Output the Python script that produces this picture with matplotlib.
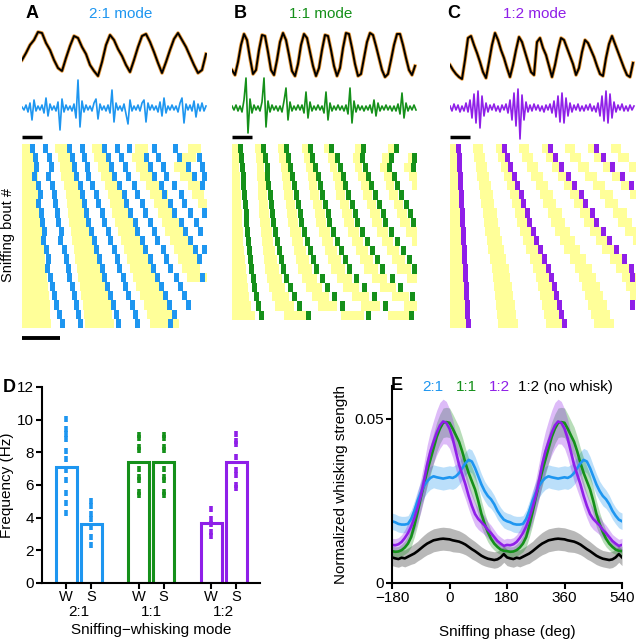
import numpy as np
import matplotlib.pyplot as plt

plt.rcParams['font.family'] = ['Liberation Sans', 'DejaVu Sans']

W_PX, H_PX = 636, 639
BLUE = '#1E96F0'
GREEN = '#15901A'
PURPLE = '#8F1FE8'
YELLOW = '#FFFF99'
ORANGE = '#E89B3C'

# ---------------- top traces (time in 5-ms bins) ----------------
sniff_a = [20, 27, 35, 40, 48, 47, 37, 30, 20, 12, 9, 22, 34, 44, 42, 33, 26, 15, 9, 4,
           18, 35, 45, 40, 31, 24, 15, 8, 20, 33, 44, 46, 38, 28, 17, 7, 18, 30, 41, 47,
           40, 33, 24, 15, 7, 10, 26]
emg_a = [1, -2, 3, -4, 5, -12, 8, -3, 2, -2, 3, -5, 10, -8, 4, -2, 2, -3, 6, -22,
         9, -4, 3, -2, 2, -3, 4, -10, 28, -19, 7, -4, 3, -2, 2, -3, 5, 9, -11, 4,
         -2, 2, -3, 3, -5, 18, -14, 5, -2, 2, -3, 4, -6, -16, 8, -3, 2, -2, 3, -3,
         5, 8, -14, 5, -2, 3, -2, 2, -4, 6, -8, 10, -5, 2, -2, 3, -2, 2, -4, 5,
         10, -15, 4, -2, 3, -3, 7, -9, 4, -3, 5, -3, 2]
sniff_b = [10, 5, 18, 35, 46, 40, 22, 6, 10, 30, 45, 44, 28, 10, 5, 20, 38, 47, 40, 25,
           9, 4, 16, 35, 46, 42, 28, 14, 4, 12, 30, 45, 44, 30, 14, 4, 12, 32, 47, 46,
           32, 16, 4, 6, 22, 38, 47, 45, 34, 22, 10, 3, 6, 20, 35, 46, 46, 35, 22, 10,
           5, 14]
emg_b = [2, -2, 3, -3, 2, -4, 8, 30, -25, 9, -5, 3, -2, 2, -3, 6, 30, -19, 7, -4,
         3, -2, 2, -3, 2, -4, 7, 20, -12, 6, -3, 2, -2, 3, -2, 3, -5, 16, -10, 6,
         -3, 2, -2, 3, -2, 2, -5, 16, -12, 5, -3, 2, -2, 3, -2, 2, -3, 3, -6, 20,
         -15, 7, -4, 3, -2, 2, -3, 2, -2, 3, -5, 8, -8, 5, -3, 2, -2, 3, -2, 2,
         -3, 2, -3, 4, -6, 15, -10, 5, -3, 2, -2, 3, -2]
sniff_c = [15, 10, 6, 3, 1, 20, 42, 44, 35, 27, 18, 8, 2, 18, 35, 47, 40, 30, 22, 12,
           3, 15, 30, 43, 38, 28, 18, 8, 5, 38, 42, 32, 25, 14, 3, 15, 30, 42, 40, 32,
           24, 16, 5, 12, 28, 40, 37, 30, 23, 14, 6, 4, 22, 36, 44, 36, 28, 20, 12, 5,
           3, 17]
emg_c = [2, -3, 4, -2, 3, -4, 2, -3, 5, -4, 8, -10, 14, -15, 17, -20, 12, -8, 5, -4,
         3, -2, 4, -3, 2, -4, 3, -2, 4, -5, 8, -12, 15, -18, 19, -31, 13, -12, 6, -4,
         3, -3, 4, -2, 3, -3, 2, -4, 3, -2, 4, -5, 7, -9, 12, -14, 15, -15, 10, -8,
         5, -4, 3, -2, 4, -3, 2, -3, 3, -2, 4, -3, 2, -4, 5, -8, 12, -13, 17, -15,
         14, -10, 6, -4, 3, -2, 4, -3, 2, -3, 3, -2, 2]

# ---------------- rasters: yellow = sniff, colour = whisk ----------------
A_onsets = [[0, 33, 70, 113, 166], [0, 36, 72, 110, 160], [0, 38, 76, 114, 152],
            [0, 39, 79, 118, 158], [0, 42, 83, 124, 166], [0, 44, 86, 128, 170],
            [0, 45, 88, 132, 176], [0, 46, 90, 136], [0, 47, 93, 140], [0, 49, 96, 143],
            [0, 50, 99, 148], [0, 52, 102, 152], [0, 53, 105, 156], [0, 55, 108, 160],
            [0, 56, 111, 165], [0, 58, 114], [0, 59, 118], [0, 61, 122], [0, 62, 125],
            [0, 63, 128]]
A_width = [13, 14, 15, 16, 17, 18, 18, 19, 20, 20, 21, 23, 23, 24, 25, 26, 27, 28, 28, 29]
A_end = [185, 185, 185, 185, 185, 182, 185, 185, 183, 185, 180, 185, 183, 178, 185,
         170, 172, 168, 165, 160]
A_whisk = [[8, 21, 45, 58, 80, 93, 105, 130, 151], [11, 25, 48, 60, 84, 97, 122, 134, 155, 175],
           [12, 27, 50, 63, 87, 101, 126, 139, 164, 178], [10, 24, 52, 64, 90, 104, 130, 142, 170, 180],
           [14, 28, 56, 68, 95, 110, 137, 150, 178], [16, 30, 58, 72, 100, 113, 140, 157],
           [14, 31, 60, 74, 102, 118, 146, 160], [17, 33, 62, 78, 106, 121, 150, 166, 180],
           [18, 34, 64, 80, 111, 126, 157, 172], [20, 37, 67, 84, 113, 130, 161, 176],
           [19, 36, 70, 86, 118, 133, 166], [22, 40, 72, 90, 121, 139, 171, 180],
           [24, 42, 75, 93, 126, 142, 175], [23, 44, 78, 95, 129, 146],
           [26, 45, 80, 99, 133, 152, 178], [28, 48, 83, 101, 137, 156],
           [30, 50, 86, 104, 141, 160], [32, 52, 89, 108, 145, 164],
           [35, 54, 92, 111, 150], [38, 56, 94, 113, 146]]

B_onsets = [[0, 23, 46, 70, 92, 123, 156], [0, 24, 47, 72, 96, 121, 150, 176],
            [0, 25, 49, 74, 98, 123, 148, 172], [0, 25, 50, 76, 101, 126, 152, 177],
            [0, 26, 51, 77, 103, 129, 154, 180], [0, 26, 52, 78, 104, 131, 157],
            [0, 27, 54, 81, 108, 135, 162], [0, 27, 55, 83, 110, 138, 165],
            [0, 28, 56, 84, 112, 140, 168], [0, 29, 58, 87, 116, 145, 174],
            [0, 30, 60, 90, 120, 150, 180], [0, 31, 62, 93, 124, 155],
            [0, 32, 64, 96, 128, 160], [0, 33, 66, 99, 132, 165],
            [0, 35, 70, 105, 140, 175], [0, 37, 74, 111, 148], [0, 40, 80, 120, 160],
            [0, 43, 86, 129, 172], [0, 52, 109, 156]]
B_width = [6, 7, 7, 8, 8, 9, 9, 10, 10, 11, 11, 12, 13, 14, 15, 16, 17, 19, 23]
B_end = [185] * 19
B_whisk = [[6, 29, 52, 76, 97, 129, 162], [7, 31, 54, 78, 103, 128, 157, 180],
           [8, 33, 56, 81, 106, 131, 155, 179], [9, 33, 58, 84, 109, 134, 160],
           [9, 34, 60, 86, 111, 137, 163], [10, 36, 62, 88, 114, 141, 167],
           [11, 37, 64, 91, 118, 145, 172], [12, 38, 66, 94, 121, 149, 176],
           [12, 39, 67, 95, 123, 151, 179], [13, 41, 70, 99, 128, 157],
           [14, 43, 73, 103, 133, 163], [15, 45, 76, 107, 138, 169],
           [16, 47, 79, 111, 143, 175], [17, 49, 82, 115, 148, 180],
           [19, 52, 88, 122, 158], [20, 56, 93, 130, 166], [22, 60, 100, 140, 178],
           [24, 65, 108, 151], [27, 74, 134, 177]]

C_onsets = [[0, 23, 46, 69, 92, 115, 138, 161], [0, 24, 48, 72, 96, 120, 144, 168],
            [0, 26, 51, 77, 102, 128, 153, 179], [0, 27, 54, 81, 108, 135, 162],
            [0, 29, 57, 86, 114, 143, 171], [0, 30, 60, 90, 120, 150, 180],
            [0, 31, 62, 93, 124, 155], [0, 33, 65, 98, 130, 163], [0, 34, 67, 101, 134, 168],
            [0, 35, 70, 105, 140, 175], [0, 37, 73, 110, 146, 183], [0, 38, 76, 114, 152],
            [0, 40, 80, 120, 160], [0, 42, 83, 125, 166], [0, 43, 86, 129, 172],
            [0, 44, 88, 132, 176], [0, 45, 90, 135, 180], [0, 46, 92, 138],
            [0, 47, 94, 141], [0, 48, 96, 144]]
C_width = [10, 11, 11, 12, 12, 13, 13, 14, 14, 15, 15, 16, 16, 17, 17, 18, 18, 19, 19, 20]
C_end = [186] * 20
C_whisk = [[6, 52, 98, 144], [7, 55, 103, 151], [7, 58, 109, 160], [8, 62, 116, 170],
           [8, 65, 122, 179], [9, 69, 129], [9, 71, 133], [10, 75, 140], [10, 77, 144],
           [11, 81, 151], [11, 84, 157], [12, 88, 164], [12, 92, 172], [13, 96, 179],
           [13, 99, 180], [14, 102], [14, 104], [15, 107, 180], [15, 109], [16, 112]]

# ---------------- panel D ----------------
modes = ['2:1', '1:1', '1:2']
bar_labels = ['W', 'S', 'W', 'S', 'W', 'S']
bar_freq = [7.1, 3.6, 7.4, 7.4, 3.7, 7.4]
bar_colors = [BLUE, BLUE, GREEN, GREEN, PURPLE, PURPLE]
bout_freq = [
    [10.05, 9.4, 9.1, 8.8, 8.1, 7.6, 6.9, 6.3, 5.5, 4.9, 4.3],
    [5.0, 4.7, 4.2, 3.9, 3.4, 2.8, 2.3],
    [9.05, 8.85, 8.35, 8.15, 7.0, 6.5, 6.3, 5.6, 5.4],
    [9.05, 8.85, 8.35, 8.15, 7.0, 6.5, 6.3, 5.6, 5.4],
    [4.55, 3.9, 3.6, 3.1, 2.9],
    [9.1, 8.7, 8.5, 7.7, 6.9, 6.6, 6.0, 5.8],
]

# ---------------- panel E (one sniff cycle, -180..170 deg) ----------------
phase_cycle = np.arange(-180, 180, 10)
purple_mean = [.0116, .0115, .0118, .0125, .0137, .0152, .0172, .0198, .023, .0265,
               .031, .036, .040, .043, .0458, .048, .0492, .0488, .047, .044,
               .040, .036, .033, .030, .0265, .0235, .021, .0195, .0185, .0175,
               .0162, .0152, .014, .0128, .012, .0113]
purple_sem = [.002, .002, .002, .0022, .0025, .003, .0035, .004, .0045, .005,
              .0055, .006, .0062, .0065, .0068, .007, .0068, .0065, .006, .0058,
              .0055, .005, .0048, .0045, .004, .0037, .0035, .0032, .003, .0028,
              .0025, .0024, .0022, .002, .002, .002]
green_mean = [.0097, .0095, .0096, .010, .0108, .012, .014, .0175, .0215, .026,
              .030, .034, .0375, .041, .0445, .047, .0488, .049, .0488, .047,
              .045, .043, .040, .0365, .0335, .031, .0285, .025, .021, .018,
              .0155, .0135, .012, .011, .0102, .0098]
green_sem = [.0015, .0015, .0015, .0018, .002, .0025, .003, .0035, .004, .004,
             .0042, .0045, .0045, .0045, .0045, .0045, .0045, .0045, .0045, .0045,
             .0045, .0045, .0045, .0045, .0045, .0045, .0045, .0042, .004, .0035,
             .003, .0025, .002, .0018, .0015, .0015]
blue_mean = [.0188, .0185, .018, .0178, .0178, .018, .0195, .022, .025, .0275,
             .0295, .031, .032, .0325, .0322, .032, .0318, .032, .0322, .032,
             .0325, .0335, .035, .0365, .0375, .037, .035, .0325, .030, .028,
             .0265, .0255, .024, .022, .0205, .0193]
blue_sem = [.0025, .0025, .0025, .0025, .0025, .0025, .0027, .003, .0032, .0033,
            .0035, .0035, .0035, .0035, .0035, .0035, .0035, .0035, .0035, .0035,
            .0035, .0035, .0035, .0035, .0035, .0035, .0035, .0033, .0032, .003,
            .003, .0028, .0027, .0026, .0025, .0025]
black_mean = [.0078, .0075, .0073, .0077, .0075, .008, .0085, .009, .0097, .0105,
              .0113, .012, .0125, .013, .0132, .0134, .0135, .0134, .0133, .013,
              .0128, .0126, .0122, .0117, .011, .0103, .0097, .009, .0083, .0078,
              .0074, .0072, .007, .0072, .0078, .0088]
black_sem = [.0025, .0025, .0025, .0025, .0026, .0027, .0028, .003, .003, .0032,
             .0033, .0034, .0035, .0035, .0035, .0035, .0035, .0035, .0035, .0035,
             .0034, .0033, .0032, .0031, .003, .003, .0029, .0028, .0027, .0026,
             .0025, .0025, .0025, .0025, .0025, .0025]


def px_axes(fig, x0, y0, x1, y1):
    return fig.add_axes([x0 / W_PX, 1 - y1 / H_PX, (x1 - x0) / W_PX, (y1 - y0) / H_PX])


def draw_traces(fig, x0, x1, sniff, sdt, emg, edt, color, xmax):
    ax = px_axes(fig, x0, 25, x1, 82)
    t = np.arange(len(sniff)) * sdt
    ax.plot(t, sniff, color=ORANGE, lw=2.6)
    ax.plot(t, sniff, color='black', lw=1.4)
    ax.set_xlim(0, xmax)
    ax.set_ylim(-2, 55)
    ax.axis('off')
    ax2 = px_axes(fig, x0, 76, x1, 140)
    te = np.arange(len(emg)) * edt
    ax2.plot(te, emg, color=color, lw=1.2)
    ax2.plot([0, 20], [-29, -29], color='black', lw=2.5, solid_capstyle='butt')
    ax2.set_xlim(0, xmax)
    ax2.set_ylim(-32, 32)
    ax2.axis('off')


def draw_raster(fig, x0, y0, x1, y1, onsets, widths, ends, whisks, color, xmax):
    ax = px_axes(fig, x0, y0, x1, y1)
    for i in range(len(onsets)):
        bars = [(o, min(widths[i], ends[i] - o)) for o in onsets[i] if o < ends[i]]
        ax.broken_barh(bars, (i, 1), facecolors=YELLOW, edgecolor='none')
        ax.broken_barh([(t, 5) for t in whisks[i]], (i, 1), facecolors=color, edgecolor='none')
    ax.set_xlim(0, xmax)
    ax.set_ylim(len(onsets), 0)
    ax.axis('off')
    return ax


fig = plt.figure(figsize=(6.36, 6.39), dpi=100)

# panel letters / titles
for x, letter in [(32, 'A'), (240, 'B'), (454, 'C')]:
    fig.text(x / W_PX, 1 - 13 / H_PX, letter, fontsize=13, fontweight='bold', ha='center', va='center')
for x, title, col in [(121, '2:1 mode', BLUE), (321, '1:1 mode', GREEN), (535, '1:2 mode', PURPLE)]:
    fig.text(x / W_PX, 1 - 14 / H_PX, title, fontsize=11, color=col, ha='center', va='center')

draw_traces(fig, 22, 207, sniff_a, 4, emg_a, 2, BLUE, 185)
draw_traces(fig, 232, 417, sniff_b, 3, emg_b, 2, GREEN, 185)
draw_traces(fig, 450, 636, sniff_c, 3, emg_c, 2, PURPLE, 186)

draw_raster(fig, 22, 144, 207, 328, A_onsets, A_width, A_end, A_whisk, BLUE, 185)
draw_raster(fig, 232, 144, 417, 320, B_onsets, B_width, B_end, B_whisk, GREEN, 185)
draw_raster(fig, 450, 144, 636, 328, C_onsets, C_width, C_end, C_whisk, PURPLE, 186)

# raster time bar
axbar = px_axes(fig, 22, 333, 207, 343)
axbar.plot([0, 38], [0, 0], color='black', lw=2.8, solid_capstyle='butt')
axbar.set_xlim(0, 185)
axbar.set_ylim(-1, 1)
axbar.axis('off')
fig.text(8 / W_PX, 1 - 235 / H_PX, 'Sniffing bout #', rotation=90, fontsize=10.5,
         ha='center', va='center')

# ---------------- panel D ----------------
axD = px_axes(fig, 42, 387, 260, 583)
pos = [0, 1, 2.9, 3.9, 5.8, 6.8]
axD.bar(pos, bar_freq, width=0.84, facecolor='none', edgecolor=bar_colors, linewidth=2.2)
for p, pts, c in zip(pos, bout_freq, bar_colors):
    axD.plot([p] * len(pts), pts, ls='none', marker='|', ms=4.5, mew=2.6, color=c)
axD.set_xlim(-0.96, 7.76)
axD.set_ylim(0, 12)
axD.set_yticks(range(0, 13, 2))
axD.set_xticks(pos)
axD.set_xticklabels(bar_labels)
for sp in ['top', 'right']:
    axD.spines[sp].set_visible(False)
for sp in ['left', 'bottom']:
    axD.spines[sp].set_linewidth(1.5)
axD.tick_params(direction='out', length=4, width=1.5, labelsize=11, pad=2)
axD.tick_params(axis='x', labelsize=10.5, pad=1)
axD.set_ylabel('Frequency (Hz)', fontsize=11)
axD.yaxis.set_label_coords(-0.13, 0.5)
for gx, m in zip([0.5, 3.4, 6.3], modes):
    axD.text(gx, -0.148, m, transform=axD.get_xaxis_transform(), fontsize=11,
             ha='center', va='center')
axD.text(0.5, -0.24, 'Sniffing\u2212whisking mode', transform=axD.transAxes, fontsize=11,
         ha='center', va='center')
fig.text(9 / W_PX, 1 - 388 / H_PX, 'D', fontsize=13, fontweight='bold', ha='center', va='center')

# ---------------- panel E ----------------
axE = px_axes(fig, 392, 386, 622, 583)
phase = np.concatenate([phase_cycle, phase_cycle + 360, [540]])


def cyc(a):
    a = np.asarray(a)
    return np.concatenate([a, a, a[:1]])


curves = [
    (black_mean, black_sem, 'black', '#8A8A8A', 0.6),
    (blue_mean, blue_sem, BLUE, BLUE, 0.3),
    (green_mean, green_sem, GREEN, GREEN, 0.3),
    (purple_mean, purple_sem, PURPLE, PURPLE, 0.3),
]
for m, s, lc, fc, al in curves:
    m, s = cyc(m), cyc(s)
    axE.fill_between(phase, m - s, m + s, color=fc, alpha=al, lw=0)
for m, s, lc, fc, al in [curves[0], curves[2], curves[1], curves[3]]:
    axE.plot(phase, cyc(m), color=lc, lw=1.9)
axE.set_xlim(-180, 540)
axE.set_ylim(0, 0.06)
axE.set_xticks([-180, 0, 180, 360, 540])
axE.set_yticks([0, 0.05])
axE.set_yticklabels(['0', '0.05'])
for sp in ['top', 'right']:
    axE.spines[sp].set_visible(False)
for sp in ['left', 'bottom']:
    axE.spines[sp].set_linewidth(1.5)
axE.tick_params(direction='out', length=4, width=1.5, labelsize=11, pad=2)
axE.set_xlabel('Sniffing phase (deg)', fontsize=11, labelpad=14)
axE.set_ylabel('Normalized whisking strength', fontsize=11, labelpad=4)
fig.text(397 / W_PX, 1 - 385 / H_PX, 'E', fontsize=13, fontweight='bold', ha='center', va='center')
for x, lab, c in [(422, '2:1', BLUE), (456, '1:1', GREEN), (489, '1:2', PURPLE),
                  (518, '1:2 (no whisk)', 'black')]:
    fig.text(x / W_PX, 1 - 387 / H_PX, lab, fontsize=11, color=c, ha='left', va='center')

fig.savefig('out.png', dpi=100)
